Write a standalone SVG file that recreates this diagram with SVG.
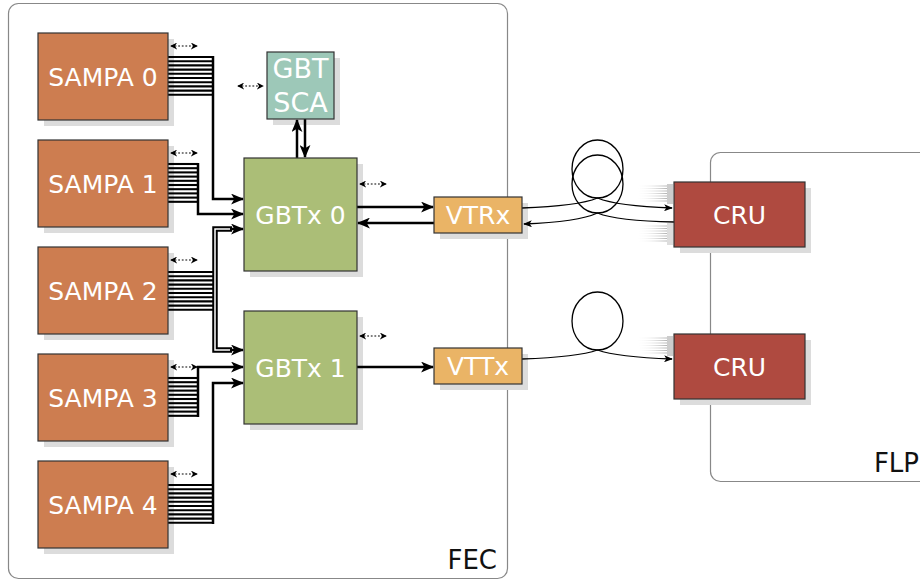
<svg xmlns="http://www.w3.org/2000/svg" width="920" height="581" viewBox="0 0 920 581">
<defs>
<style>
.lbl{font-family:"DejaVu Sans",sans-serif;font-size:25px;fill:#fff;text-anchor:middle}
.sca{font-size:27px}
.big{font-family:"DejaVu Sans",sans-serif;font-size:26px;fill:#111;text-anchor:end}
.box{stroke:#333;stroke-width:1.2}
.sh{fill:#dcdcdc}
.bus line{stroke:#000;stroke-width:2.1}
.wire{fill:none;stroke:#000;stroke-width:2.5}
.dot{stroke:#000;stroke-width:1.2;stroke-dasharray:1.8 1.8;marker-start:url(#sm);marker-end:url(#sm)}
.fib{fill:none;stroke:#000;stroke-width:1.3}
.fade line{stroke:url(#fg);stroke-width:1.2}
</style>
<marker id="ar" viewBox="0 0 12 10" refX="11" refY="5" markerWidth="13" markerHeight="11" markerUnits="userSpaceOnUse" orient="auto-start-reverse">
<path d="M0,0 L12,5 L0,10 L3,5 z" fill="#000"/>
</marker>
<marker id="sm" viewBox="0 0 8 8" refX="7" refY="4" markerWidth="7" markerHeight="7" markerUnits="userSpaceOnUse" orient="auto-start-reverse">
<path d="M0,0 L8,4 L0,8 L2.5,4 z" fill="#000"/>
</marker>
<marker id="fa" viewBox="0 0 10 8" refX="9" refY="4" markerWidth="9" markerHeight="7" markerUnits="userSpaceOnUse" orient="auto-start-reverse">
<path d="M0,0 L10,4 L0,8 L2.5,4 z" fill="#000"/>
</marker>
<linearGradient id="fg" gradientUnits="userSpaceOnUse" x1="636" y1="0" x2="672" y2="0">
<stop offset="0" stop-color="#fff" stop-opacity="0"/>
<stop offset="1" stop-color="#999"/>
</linearGradient>
</defs>

<!-- containers -->
<g id="FEC">
<rect x="8.5" y="3.5" width="499" height="575" rx="10" fill="none" stroke="#888" stroke-width="1.2"/>
<text class="big" x="497" y="569">FEC</text>
</g>
<g id="FLP">
<rect x="710.5" y="152.5" width="240" height="329" rx="10" fill="none" stroke="#888" stroke-width="1.2"/>
<text class="big" x="919" y="472">FLP</text>
</g>

<!-- shadows -->
<g id="shadows">
<rect class="sh" x="44" y="39" width="130" height="87"/>
<rect class="sh" x="44" y="146" width="130" height="87"/>
<rect class="sh" x="44" y="253" width="130" height="87"/>
<rect class="sh" x="44" y="360" width="130" height="87"/>
<rect class="sh" x="44" y="467" width="130" height="87"/>
<rect class="sh" x="273" y="58" width="67" height="67"/>
<rect class="sh" x="250" y="164" width="113" height="113"/>
<rect class="sh" x="250" y="317" width="113" height="113"/>
<rect class="sh" x="440" y="203" width="88" height="36"/>
<rect class="sh" x="440" y="354" width="88" height="36"/>
<rect class="sh" x="680" y="188" width="131" height="65"/>
<rect class="sh" x="680" y="340" width="131" height="65"/>
</g>

<!-- connectors -->
<g id="connectors">
<g class="bus">
<line x1="168" y1="57" x2="213" y2="57"/><line x1="168" y1="61.2" x2="213" y2="61.2"/><line x1="168" y1="65.4" x2="213" y2="65.4"/><line x1="168" y1="69.6" x2="213" y2="69.6"/><line x1="168" y1="73.8" x2="213" y2="73.8"/><line x1="168" y1="78" x2="213" y2="78"/><line x1="168" y1="82.2" x2="213" y2="82.2"/><line x1="168" y1="86.4" x2="213" y2="86.4"/><line x1="168" y1="90.6" x2="213" y2="90.6"/><line x1="168" y1="94.8" x2="213" y2="94.8"/>
<line x1="168" y1="164" x2="198" y2="164"/><line x1="168" y1="168.2" x2="198" y2="168.2"/><line x1="168" y1="172.4" x2="198" y2="172.4"/><line x1="168" y1="176.6" x2="198" y2="176.6"/><line x1="168" y1="180.8" x2="198" y2="180.8"/><line x1="168" y1="185" x2="198" y2="185"/><line x1="168" y1="189.2" x2="198" y2="189.2"/><line x1="168" y1="193.4" x2="198" y2="193.4"/><line x1="168" y1="197.6" x2="198" y2="197.6"/><line x1="168" y1="201.8" x2="198" y2="201.8"/>
<line x1="168" y1="272" x2="215" y2="272"/><line x1="168" y1="276.2" x2="215" y2="276.2"/><line x1="168" y1="280.4" x2="215" y2="280.4"/><line x1="168" y1="284.6" x2="215" y2="284.6"/><line x1="168" y1="288.8" x2="215" y2="288.8"/><line x1="168" y1="293" x2="215" y2="293"/><line x1="168" y1="297.2" x2="215" y2="297.2"/><line x1="168" y1="301.4" x2="215" y2="301.4"/><line x1="168" y1="305.6" x2="215" y2="305.6"/><line x1="168" y1="309.8" x2="215" y2="309.8"/>
<line x1="168" y1="378" x2="198" y2="378"/><line x1="168" y1="382.2" x2="198" y2="382.2"/><line x1="168" y1="386.4" x2="198" y2="386.4"/><line x1="168" y1="390.6" x2="198" y2="390.6"/><line x1="168" y1="394.8" x2="198" y2="394.8"/><line x1="168" y1="399" x2="198" y2="399"/><line x1="168" y1="403.2" x2="198" y2="403.2"/><line x1="168" y1="407.4" x2="198" y2="407.4"/><line x1="168" y1="411.6" x2="198" y2="411.6"/><line x1="168" y1="415.8" x2="198" y2="415.8"/>
<line x1="168" y1="485" x2="213" y2="485"/><line x1="168" y1="489.2" x2="213" y2="489.2"/><line x1="168" y1="493.4" x2="213" y2="493.4"/><line x1="168" y1="497.6" x2="213" y2="497.6"/><line x1="168" y1="501.8" x2="213" y2="501.8"/><line x1="168" y1="506" x2="213" y2="506"/><line x1="168" y1="510.2" x2="213" y2="510.2"/><line x1="168" y1="514.4" x2="213" y2="514.4"/><line x1="168" y1="518.6" x2="213" y2="518.6"/><line x1="168" y1="522.8" x2="213" y2="522.8"/>
</g>
<path class="wire" d="M213,56 V199 H243" marker-end="url(#ar)"/>
<path class="wire" d="M198,163 V214 H243" marker-end="url(#ar)"/>
<path fill="none" stroke="#000" stroke-width="5.5" d="M215,291 V229 H232"/>
<path fill="none" stroke="#fff" stroke-width="1.5" d="M215,291 V229 H232"/>
<path class="wire" d="M230,229 H243" marker-end="url(#ar)"/>
<path fill="none" stroke="#000" stroke-width="5.5" d="M215,291 V350 H232"/>
<path fill="none" stroke="#fff" stroke-width="1.5" d="M215,291 V350 H232"/>
<path class="wire" d="M230,350 H243" marker-end="url(#ar)"/>
<path class="wire" d="M198,417 V367 H243" marker-end="url(#ar)"/>
<path class="wire" d="M213,524 V383 H243" marker-end="url(#ar)"/>
<line class="wire" x1="297" y1="158" x2="297" y2="120" marker-end="url(#ar)"/>
<line class="wire" x1="305" y1="119" x2="305" y2="157" marker-end="url(#ar)"/>
<line class="wire" x1="357" y1="207" x2="433" y2="207" marker-end="url(#ar)"/>
<line class="wire" x1="434" y1="223" x2="358" y2="223" marker-end="url(#ar)"/>
<line class="wire" x1="357" y1="367" x2="433" y2="367" marker-end="url(#ar)"/>
<line class="dot" x1="171" y1="46" x2="197" y2="46"/>
<line class="dot" x1="171" y1="153" x2="197" y2="153"/>
<line class="dot" x1="171" y1="260" x2="197" y2="260"/>
<line class="dot" x1="171" y1="367" x2="197" y2="367"/>
<line class="dot" x1="171" y1="474" x2="197" y2="474"/>
<line class="dot" x1="238" y1="86" x2="263" y2="86"/>
<line class="dot" x1="360" y1="184" x2="386" y2="184"/>
<line class="dot" x1="360" y1="336" x2="386" y2="336"/>
<ellipse class="fib" cx="597.5" cy="169" rx="25.5" ry="29"/>
<ellipse class="fib" cx="597.5" cy="184" rx="25.5" ry="29"/>
<ellipse class="fib" cx="597.5" cy="321" rx="25.5" ry="29"/>
<path class="fib" d="M522,208 Q578,206 597.5,198 Q617,206 672,208" marker-end="url(#fa)"/>
<path class="fib" d="M674,222 Q617,221 597.5,213 Q578,222 524,224" marker-end="url(#fa)"/>
<path class="fib" d="M522,359 Q578,357 597.5,350 Q617,357 672,359" marker-end="url(#fa)"/>
<g class="fade">
<line x1="636" y1="186" x2="672" y2="186"/><line x1="636" y1="188.5" x2="672" y2="188.5"/><line x1="636" y1="191" x2="672" y2="191"/><line x1="636" y1="193.5" x2="672" y2="193.5"/><line x1="636" y1="196" x2="672" y2="196"/><line x1="636" y1="198.5" x2="672" y2="198.5"/><line x1="636" y1="201" x2="672" y2="201"/>
<line x1="636" y1="226" x2="672" y2="226"/><line x1="636" y1="228.5" x2="672" y2="228.5"/><line x1="636" y1="231" x2="672" y2="231"/><line x1="636" y1="233.5" x2="672" y2="233.5"/><line x1="636" y1="236" x2="672" y2="236"/><line x1="636" y1="238.5" x2="672" y2="238.5"/><line x1="636" y1="241" x2="672" y2="241"/>
<line x1="636" y1="338" x2="672" y2="338"/><line x1="636" y1="340.5" x2="672" y2="340.5"/><line x1="636" y1="343" x2="672" y2="343"/><line x1="636" y1="345.5" x2="672" y2="345.5"/><line x1="636" y1="348" x2="672" y2="348"/><line x1="636" y1="350.5" x2="672" y2="350.5"/><line x1="636" y1="353" x2="672" y2="353"/>
</g>
<rect x="667" y="184" width="6" height="20" fill="#ccc"/>
<rect x="667" y="223" width="6" height="22" fill="#ddd"/>
<rect x="667" y="336" width="6" height="20" fill="#ccc"/>
</g>

<!-- nodes -->
<g id="sampa0"><rect class="box" x="38" y="33" width="130" height="87" fill="#CD7D50"/><text class="lbl" x="103" y="85.5">SAMPA 0</text></g>
<g id="sampa1"><rect class="box" x="38" y="140" width="130" height="87" fill="#CD7D50"/><text class="lbl" x="103" y="192.5">SAMPA 1</text></g>
<g id="sampa2"><rect class="box" x="38" y="247" width="130" height="87" fill="#CD7D50"/><text class="lbl" x="103" y="299.5">SAMPA 2</text></g>
<g id="sampa3"><rect class="box" x="38" y="354" width="130" height="87" fill="#CD7D50"/><text class="lbl" x="103" y="406.5">SAMPA 3</text></g>
<g id="sampa4"><rect class="box" x="38" y="461" width="130" height="87" fill="#CD7D50"/><text class="lbl" x="103" y="513.5">SAMPA 4</text></g>
<g id="gbtsca"><rect class="box" x="267" y="52" width="67" height="67" fill="#9DC8B8"/><text class="lbl sca" x="300.5" y="78">GBT</text><text class="lbl sca" x="300.5" y="112">SCA</text></g>
<g id="gbtx0"><rect class="box" x="244" y="158" width="113" height="113" fill="#ABBE77"/><text class="lbl" x="300.5" y="223.5">GBTx 0</text></g>
<g id="gbtx1"><rect class="box" x="244" y="311" width="113" height="113" fill="#ABBE77"/><text class="lbl" x="300.5" y="376.5">GBTx 1</text></g>
<g id="vtrx"><rect class="box" x="434" y="197" width="88" height="36" fill="#EAB466"/><text class="lbl" x="478" y="224">VTRx</text></g>
<g id="vttx"><rect class="box" x="434" y="348" width="88" height="36" fill="#EAB466"/><text class="lbl" x="478" y="375">VTTx</text></g>
<g id="cru0"><rect class="box" x="674" y="182" width="131" height="65" fill="#AF4A40"/><text class="lbl" x="739.5" y="223.5">CRU</text></g>
<g id="cru1"><rect class="box" x="674" y="334" width="131" height="65" fill="#AF4A40"/><text class="lbl" x="739.5" y="375.5">CRU</text></g>
</svg>
